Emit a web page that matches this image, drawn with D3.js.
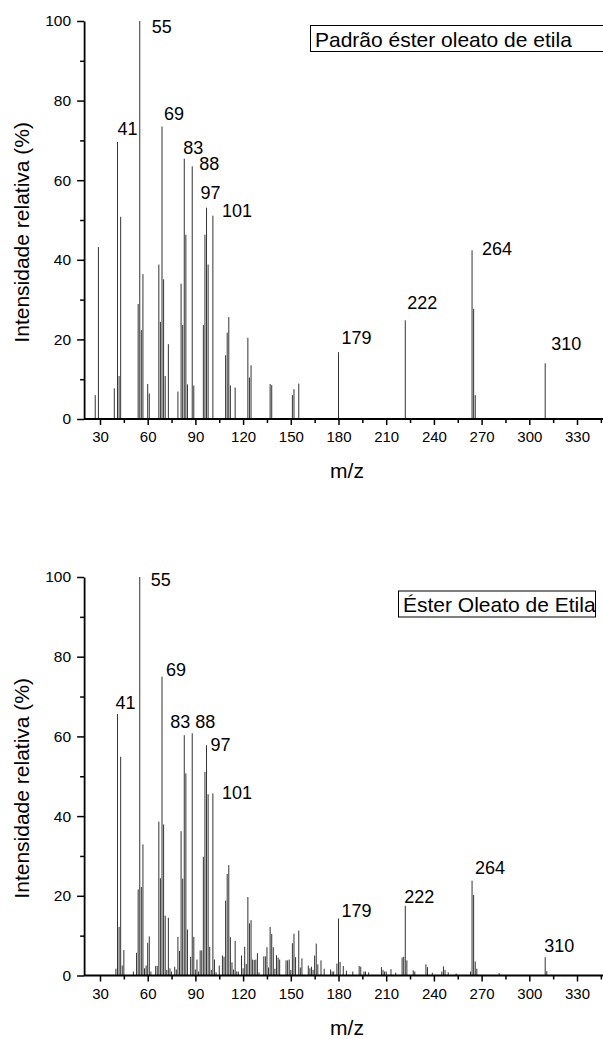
<!DOCTYPE html>
<html>
<head>
<meta charset="utf-8">
<script src="https://cdn.jsdelivr.net/npm/d3@7/dist/d3.min.js"></script>
<style>
  html, body { margin: 0; padding: 0; background: #fff; }
  svg { display: block; font-family: "Liberation Sans", Arial, Helvetica, sans-serif; }
</style>
</head>
<body>
<svg id="chart" width="603" height="1039"></svg>
<script>
// ---------- data ----------
const topMz  = [27, 29, 39, 41, 42, 43, 54, 55, 56, 57, 60, 61, 67, 68, 69, 70, 71, 73, 79, 81, 82, 83, 84, 85, 88, 89, 95, 96, 97, 98, 101, 109, 110, 111, 112, 115, 123, 124, 125, 137, 138, 151, 152, 155, 180, 222, 264, 265, 266, 310];
const topInt = [6.0, 43.2, 7.7, 69.6, 10.8, 50.8, 28.9, 100, 22.3, 36.4, 8.8, 6.4, 38.8, 24.4, 73.5, 35.1, 10.8, 18.8, 6.9, 34.0, 23.6, 65.4, 46.3, 8.7, 63.5, 8.4, 23.6, 46.3, 53.1, 38.8, 51.1, 16.0, 21.7, 25.6, 8.4, 7.9, 20.4, 10.4, 13.5, 8.8, 8.5, 6.0, 7.5, 8.9, 16.8, 24.8, 42.4, 27.7, 6.0, 14.0];

const bottomMz  = [40, 41, 42, 43, 44, 45, 51, 53, 54, 55, 56, 57, 58, 59, 60, 61, 62, 65, 66, 67, 68, 69, 70, 71, 72, 73, 74, 75, 77, 78, 79, 80, 81, 82, 83, 84, 85, 87, 88, 89, 90, 91, 92, 93, 94, 95, 96, 97, 98, 99, 100, 101, 102, 103, 105, 107, 108, 109, 110, 111, 112, 113, 114, 115, 116, 117, 119, 120, 121, 122, 123, 124, 125, 126, 127, 128, 129, 130, 133, 134, 135, 136, 137, 138, 139, 140, 141, 142, 143, 147, 148, 149, 150, 151, 152, 153, 155, 156, 157, 161, 162, 163, 164, 165, 166, 167, 169, 171, 175, 176, 177, 179, 180, 181, 183, 185, 189, 193, 194, 196, 197, 199, 207, 208, 209, 210, 213, 216, 220, 221, 222, 223, 227, 228, 235, 236, 239, 245, 246, 247, 249, 254, 263, 264, 265, 266, 267, 281, 310, 311];
const bottomInt = [1.7, 65.6, 12.2, 54.9, 2.5, 6.4, 1.0, 5.7, 21.6, 100, 22.2, 32.9, 1.8, 2.5, 8.2, 9.8, 1.0, 2.4, 2.4, 38.6, 24.4, 75.0, 37.9, 15.0, 1.4, 14.5, 1.8, 1.0, 2.2, 1.5, 9.7, 6.2, 36.2, 24.3, 60.3, 50.7, 11.5, 4.7, 60.8, 9.7, 1.5, 4.0, 1.0, 6.3, 6.3, 29.8, 51.1, 57.8, 45.5, 7.2, 1.4, 45.7, 4.0, 0.8, 2.5, 5.0, 4.7, 18.8, 25.5, 27.7, 9.6, 3.3, 1.5, 8.7, 1.0, 1.0, 5.0, 1.8, 7.2, 2.9, 19.7, 13.1, 13.9, 4.0, 3.9, 4.0, 5.6, 0.8, 4.8, 4.8, 7.1, 2.0, 12.2, 10.4, 7.1, 1.7, 5.1, 4.5, 4.0, 3.8, 3.8, 4.0, 1.4, 8.1, 10.5, 4.6, 11.3, 2.0, 4.3, 2.5, 1.8, 2.2, 1.4, 5.0, 8.0, 2.8, 3.8, 1.7, 1.5, 1.0, 1.0, 3.0, 14.3, 3.4, 2.4, 1.2, 1.0, 2.4, 2.2, 1.0, 1.0, 0.8, 2.1, 1.4, 1.0, 1.0, 1.6, 0.7, 4.5, 4.7, 17.5, 3.8, 1.3, 1.0, 2.8, 2.1, 0.7, 1.0, 2.3, 1.4, 0.8, 0.5, 1.0, 23.8, 20.2, 3.5, 1.7, 0.6, 4.6, 1.1];

const topPeakMz     = [41, 55, 69, 83, 88, 97, 101, 180, 222, 264, 310];
const topPeakText   = ["41", "55", "69", "83", "88", "97", "101", "179", "222", "264", "310"];
const bottomPeakMz   = [41, 55, 69, 83, 88, 97, 101, 180, 222, 264, 310];
const bottomPeakText = ["41", "55", "69", "83", "88", "97", "101", "179", "222", "264", "310"];

const xMajorTicks = [30, 60, 90, 120, 150, 180, 210, 240, 270, 300, 330];
const xMinorTicks = [45, 75, 105, 135, 165, 195, 225, 255, 285, 315, 345];
const yMajorTicks = [0, 20, 40, 60, 80, 100];
const yMinorTicks = [10, 30, 50, 70, 90];

const xTitle = "m/z";
const yTitle = "Intensidade relativa (%)";
const topLegend = "Padrão éster oleato de etila";
const bottomLegend = "Éster Oleato de Etila";

// ---------- layout (not data) ----------
const topLabelOffsets = {41:[0,-7], 55:[12,12], 69:[2,-6], 83:[-1,-5], 88:[7,4], 97:[-6,-9], 101:[9,1], 180:[3,-8], 222:[2,-11], 264:[10,5], 310:[6,-13]};
const bottomLabelOffsets = {41:[-2,-5], 55:[11,9], 69:[4,-1], 83:[-14,-7], 88:[3,-5], 97:[4,6], 101:[9,6], 180:[3,-2], 222:[-1,-3], 264:[3,-7], 310:[-1,-5]};

const svg = d3.select("#chart");
const x = d3.scaleLinear().domain([20, 350]).range([84.1, 608.8]);

function panel(cfg) {
  const y = d3.scaleLinear().domain([0, 100]).range([cfg.y0, cfg.y1]);
  const g = svg.append("g");

  // bars
  const data = cfg.mz.map((m, i) => ({mz: m, v: cfg.int[i]}));
  g.append("g").selectAll("line").data(data).join("line")
    .attr("x1", d => x(d.mz)).attr("x2", d => x(d.mz))
    .attr("y1", y(0)).attr("y2", d => y(d.v))
    .attr("stroke", "#333").attr("stroke-width", 1);

  // x axis
  const xAxis = g.append("g").attr("transform", `translate(0,${y(0)})`)
    .call(d3.axisBottom(x).tickValues(xMajorTicks).tickSize(6).tickPadding(4).tickSizeOuter(0));
  xAxis.select(".domain").attr("stroke-width", 1.8).attr("d", `M${x(20)},0H${x(350)}`);
  xAxis.selectAll(".tick line").attr("stroke-width", 1.5);
  xAxis.selectAll(".tick text").attr("font-size", 15).attr("fill", "#000").attr("y", 12.5).attr("dy", "0.71em");
  g.append("g").attr("transform", `translate(0,${y(0)})`)
    .call(d3.axisBottom(x).tickValues(xMinorTicks).tickSize(4).tickFormat(""))
    .call(a => a.select(".domain").remove())
    .selectAll(".tick line").attr("stroke-width", 1.5);

  // y axis
  const yAxis = g.append("g").attr("transform", `translate(${x(20)},0)`)
    .call(d3.axisLeft(y).tickValues(yMajorTicks).tickSize(7).tickPadding(6).tickSizeOuter(0));
  yAxis.select(".domain").attr("stroke-width", 1.8);
  yAxis.selectAll(".tick line").attr("stroke-width", 1.5);
  yAxis.selectAll(".tick text").attr("font-size", 15.5).attr("fill", "#000");
  g.append("g").attr("transform", `translate(${x(20)},0)`)
    .call(d3.axisLeft(y).tickValues(yMinorTicks).tickSize(4).tickFormat(""))
    .call(a => a.select(".domain").remove())
    .selectAll(".tick line").attr("stroke-width", 1.5);

  // peak labels
  cfg.peakMz.forEach((m, i) => {
    const idx = cfg.mz.indexOf(m);
    const off = cfg.offsets[m];
    g.append("text")
      .attr("x", x(m) + off[0]).attr("y", y(cfg.int[idx]) + off[1])
      .attr("font-size", 18).attr("fill", "#000")
      .text(cfg.peakText[i]);
  });

  // axis titles
  g.append("text").attr("x", 347).attr("y", y(0) + 59)
    .attr("text-anchor", "middle").attr("font-size", 21).attr("fill", "#000").text(xTitle);
  g.append("text").attr("transform", `translate(29,${y(100) + 101}) rotate(-90)`)
    .attr("text-anchor", "end").attr("font-size", 21).attr("fill", "#000").text(yTitle);

  // legend box
  const lg = g.append("g");
  lg.append("rect")
    .attr("x", cfg.legX).attr("y", y(100) + cfg.legDy)
    .attr("width", cfg.legW).attr("height", 26)
    .attr("fill", "#fff").attr("stroke", "#000").attr("stroke-width", 1);
  lg.append("text").attr("x", cfg.legX + 4.5).attr("y", y(100) + cfg.legDy + 21)
    .attr("font-size", 21).attr("fill", "#000").text(cfg.legend);
}

panel({y0: 419, y1: 21, mz: topMz, int: topInt, peakMz: topPeakMz, peakText: topPeakText,
       offsets: topLabelOffsets, legend: topLegend, legX: 310.5, legDy: 4.5, legW: 320});
panel({y0: 975.5, y1: 577, mz: bottomMz, int: bottomInt, peakMz: bottomPeakMz, peakText: bottomPeakText,
       offsets: bottomLabelOffsets, legend: bottomLegend, legX: 398.5, legDy: 14, legW: 197});
</script>
</body>
</html>
